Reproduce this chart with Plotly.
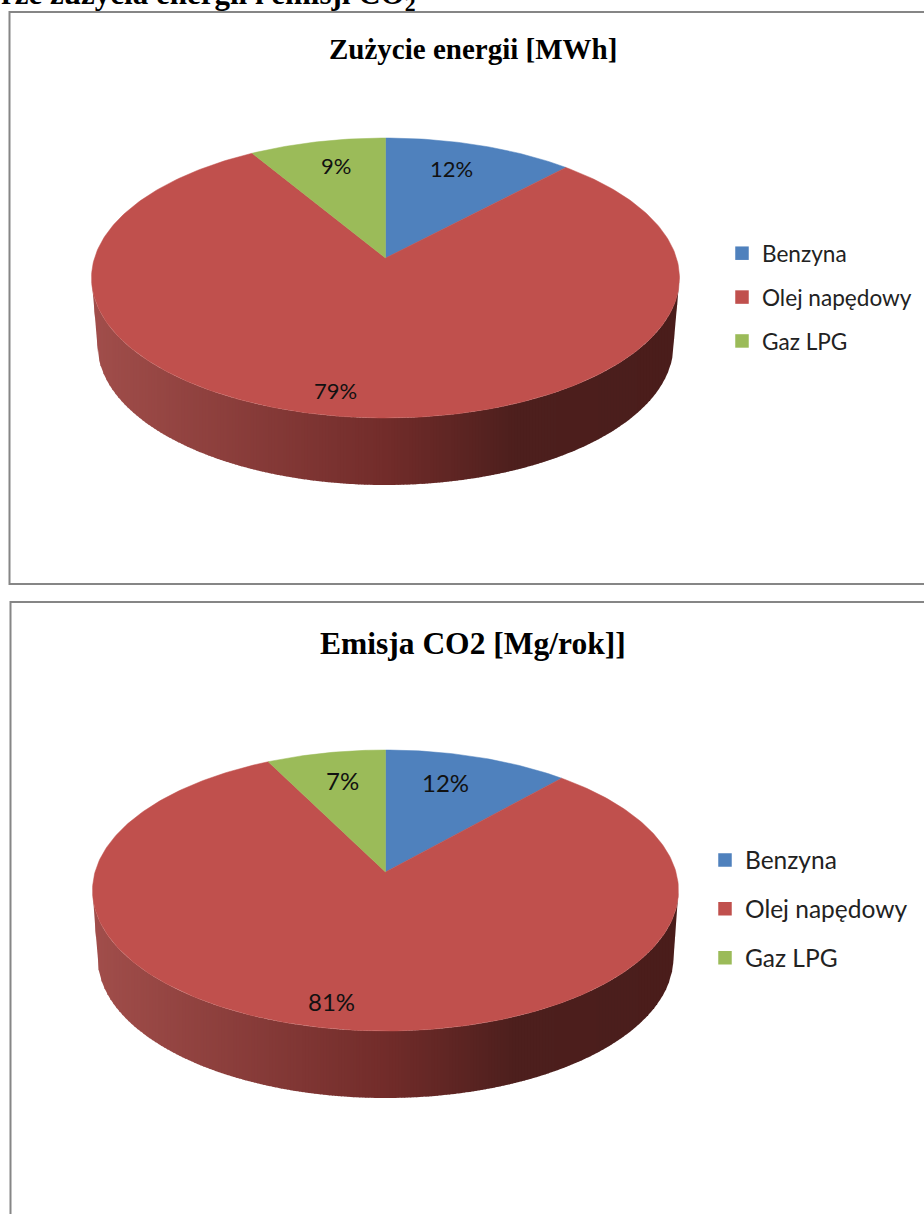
import math
import plotly.graph_objects as go

CATEGORIES = ["Benzyna", "Olej napędowy", "Gaz LPG"]
ENERGY_VALUES = [12.0, 79.4, 8.6]
EMISSION_VALUES = [11.6, 80.95, 7.45]
ENERGY_TITLE = "Zużycie energii [MWh]"
EMISSION_TITLE = "Emisja CO2 [Mg/rok]]"
COLORS = ["#4F81BD", "#C0504D", "#9BBB59"]

W, H = 924, 1214
# pie geometry: centre x, apex y, radii above/below the apex, half width, wall depth, lower half width
GEOM_1 = dict(cx=385.5, ay=258, up=120, down=160, rx=294, depth=67, rx2=288)
GEOM_2 = dict(cx=385.5, ay=872, up=122, down=159, rx=293, depth=67, rx2=288)
LABELS_1 = [(451, 168), (335, 390), (336, 165)]
LABELS_2 = [(445, 782), (331, 1001), (342, 780)]
GRAD = [(0.0, (161, 78, 75)), (0.5, (114, 44, 42)), (0.72, (77, 31, 29)), (1.0, (74, 29, 27))]


def project(g, pct, r=1.0):
    """Percent clockwise from 12 o'clock on the pie disc -> picture position (perspective)."""
    th = 2 * math.pi * pct / 100
    k = (g["down"] - g["up"]) / (g["down"] + g["up"])
    b = g["down"] * (1 - k)
    a = g["rx"] * math.sqrt(1 - k * k)
    u, v = r * math.sin(th), r * math.cos(th)
    d = 1 + k * v
    return g["cx"] + a * u / d, g["ay"] - b * v / d


def grad(t):
    for (t0, c0), (t1, c1) in zip(GRAD, GRAD[1:]):
        if t <= t1:
            f = (t - t0) / (t1 - t0)
            return "rgb(%d,%d,%d)" % tuple(round(p + (q - p) * f) for p, q in zip(c0, c1))
    return "rgb(%d,%d,%d)" % GRAD[-1][1]


def wall_top(g, cy, ry, x):
    s = min(1.0, abs(x - g["cx"]) / g["rx"])
    return cy + ry * math.sqrt(1 - s * s)


def wall_bottom(g, cy, ry, x):
    d = abs(x - g["cx"])
    if d <= g["rx2"]:
        s = d / g["rx2"]
        return cy + g["depth"] + ry * math.sqrt(1 - s * s)
    return cy + g["depth"] * (g["rx"] - d) / (g["rx"] - g["rx2"])


def add_pie(fig, g, values, legend):
    cy = g["ay"] + (g["down"] - g["up"]) / 2
    ry = (g["down"] + g["up"]) / 2
    left, width = g["cx"] - g["rx"], 2 * g["rx"]
    step = 3.0
    n = int(width / step) + 1
    for i in range(n):
        x0 = left + i * step
        x1 = min(left + width, x0 + step + 0.6)
        xs, ys = [], []
        samples = [x0, (x0 + x1) / 2, x1]
        for x in samples:
            xs.append(x)
            ys.append(wall_top(g, cy, ry, x))
        for x in reversed(samples):
            xs.append(x)
            ys.append(wall_bottom(g, cy, ry, x))
        c = grad(min(1.0, (x0 + step / 2 - left) / width))
        fig.add_trace(go.Scatter(x=xs, y=ys, mode="lines", fill="toself", fillcolor=c,
                                 line=dict(width=0), showlegend=False, hoverinfo="skip"))
    total = sum(values)
    start = 0.0
    for name, val, col in zip(CATEGORIES, values, COLORS):
        pct = 100 * val / total
        steps = max(8, int(pct * 4))
        pts = [project(g, start + pct * j / steps) for j in range(steps + 1)]
        xs = [g["cx"]] + [p[0] for p in pts] + [g["cx"]]
        ys = [g["ay"]] + [p[1] for p in pts] + [g["ay"]]
        fig.add_trace(go.Scatter(x=xs, y=ys, mode="lines", fill="toself", fillcolor=col, name=name,
                                 line=dict(color=col, width=0.5), showlegend=False, hoverinfo="name"))
        start += pct
    for name, col in zip(CATEGORIES, COLORS):
        fig.add_trace(go.Scatter(x=[None], y=[None], mode="markers", name=name, legend=legend,
                                 legendgroup=legend + name,
                                 marker=dict(symbol="square", size=13.5, color=col)))


def pct_annotations(values, positions, size):
    total = sum(values)
    return [dict(x=x, y=y, xref="x", yref="y", text="%d%%" % round(100 * v / total), showarrow=False,
                 font=dict(family="Lato", size=size, color="#111111"))
            for v, (x, y) in zip(values, positions)]


fig = go.Figure()
add_pie(fig, GEOM_1, ENERGY_VALUES, "legend")
add_pie(fig, GEOM_2, EMISSION_VALUES, "legend2")

serif = "Liberation Serif"
annotations = pct_annotations(ENERGY_VALUES, LABELS_1, 22) + pct_annotations(EMISSION_VALUES, LABELS_2, 24)
annotations += [
    dict(x=472.5, y=49, xref="x", yref="y", text="<b>%s</b>" % ENERGY_TITLE, showarrow=False,
         font=dict(family=serif, size=29, color="#000000")),
    dict(x=472.5, y=643, xref="x", yref="y", text="<b>%s</b>" % EMISSION_TITLE, showarrow=False,
         font=dict(family=serif, size=31.5, color="#000000")),
    dict(x=0, y=0, xref="x", yref="y", xanchor="left", yanchor="middle", xshift=-1, yshift=4,
         text="<b>rze zużycia energii i emisji CO<sub>2</sub></b>", showarrow=False,
         font=dict(family=serif, size=31, color="#000000")),
]

frame = dict(color="#868686", width=2)
shapes = [
    dict(type="rect", xref="x", yref="y", x0=9.5, x1=940, y0=12, y1=584, line=frame, layer="below"),
    dict(type="rect", xref="x", yref="y", x0=10.5, x1=940, y0=602, y1=1240, line=frame, layer="below"),
]

fig.update_layout(
    width=W, height=H, margin=dict(l=0, r=0, t=0, b=0), paper_bgcolor="white", plot_bgcolor="white",
    xaxis=dict(range=[0, W], visible=False, fixedrange=True, domain=[0, 1]),
    yaxis=dict(range=[H, 0], visible=False, fixedrange=True, domain=[0, 1]),
    shapes=shapes, annotations=annotations,
    legend=dict(x=(762 - 40) / W, y=1 - 232 / H, xanchor="left", yanchor="top", tracegroupgap=11.5,
                bgcolor="rgba(0,0,0,0)", font=dict(family="Lato", size=22.6, color="#222222")),
    legend2=dict(x=(745 - 40) / W, y=1 - 837.5 / H, xanchor="left", yanchor="top", tracegroupgap=14,
                 bgcolor="rgba(0,0,0,0)", font=dict(family="Lato", size=24.5, color="#222222")),
)
fig.write_html("out.html", config=dict(displayModeBar=False),
               post_script="document.body.style.margin='0';")
